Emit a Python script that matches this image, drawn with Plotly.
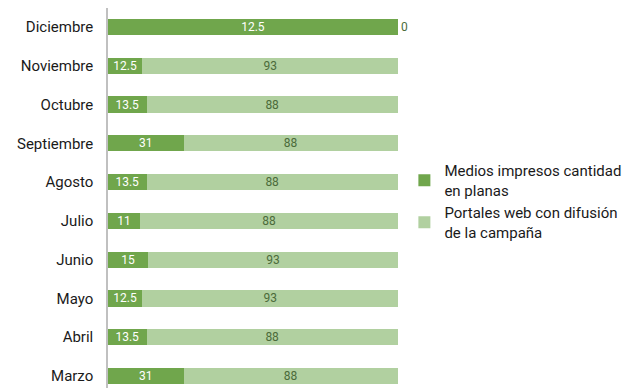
import plotly.graph_objects as go

months = ["Marzo", "Abril", "Mayo", "Junio", "Julio", "Agosto",
          "Septiembre", "Octubre", "Noviembre", "Diciembre"]
medios = [31, 13.5, 12.5, 15, 11, 13.5, 31, 13.5, 12.5, 12.5]
portales = [88, 88, 93, 93, 88, 88, 88, 88, 93, 0]
series_names = ["Medios impresos cantidad<br>en planas",
                "Portales web con difusión<br>de la campaña"]

FONT = "Roboto, Liberation Sans, sans-serif"
DARK = "#70a64c"
LIGHT = "#b1d0a0"

fig = go.Figure()
fig.add_trace(go.Bar(
    y=months, x=medios, orientation="h", name=series_names[0],
    marker=dict(color=DARK, line=dict(width=0)),
    text=[f"{v:g}" for v in medios], textposition="inside",
    insidetextanchor="middle", textangle=0, constraintext="none",
    textfont=dict(color="white", size=12, family=FONT),
))
fig.add_trace(go.Bar(
    y=months, x=portales, orientation="h", name=series_names[1],
    marker=dict(color=LIGHT, line=dict(width=0)),
    text=[f"{v:g}" for v in portales],
    textposition=["inside" if v > 0 else "outside" for v in portales],
    constraintext="none",
    insidetextanchor="middle", textangle=0, cliponaxis=False,
    textfont=dict(color="#4b6b3a", size=12, family=FONT),
))

fig.update_layout(
    width=625, height=380,
    barmode="stack", barnorm="percent", bargap=0.58,
    plot_bgcolor="white", paper_bgcolor="white",
    margin=dict(l=100, r=235, t=0, b=0, autoexpand=False),
    font=dict(family=FONT, color="#1a1a1a"),
    xaxis=dict(range=[0, 100.02], visible=False, fixedrange=True),
    yaxis=dict(range=[-0.31, 9.49], showline=True, linecolor="#c0c0c0",
               linewidth=1.5, ticks="", showgrid=False,
               tickfont=dict(size=15, color="#1a1a1a", family=FONT),
               ticklabelstandoff=10),
    legend=dict(x=1.022, y=0.615, xanchor="left", yanchor="top",
                font=dict(size=15, color="#1a1a1a", family=FONT),
                itemwidth=30, traceorder="normal",
                bgcolor="rgba(0,0,0,0)"),
    showlegend=True,
)

fig.write_html("out.html")
